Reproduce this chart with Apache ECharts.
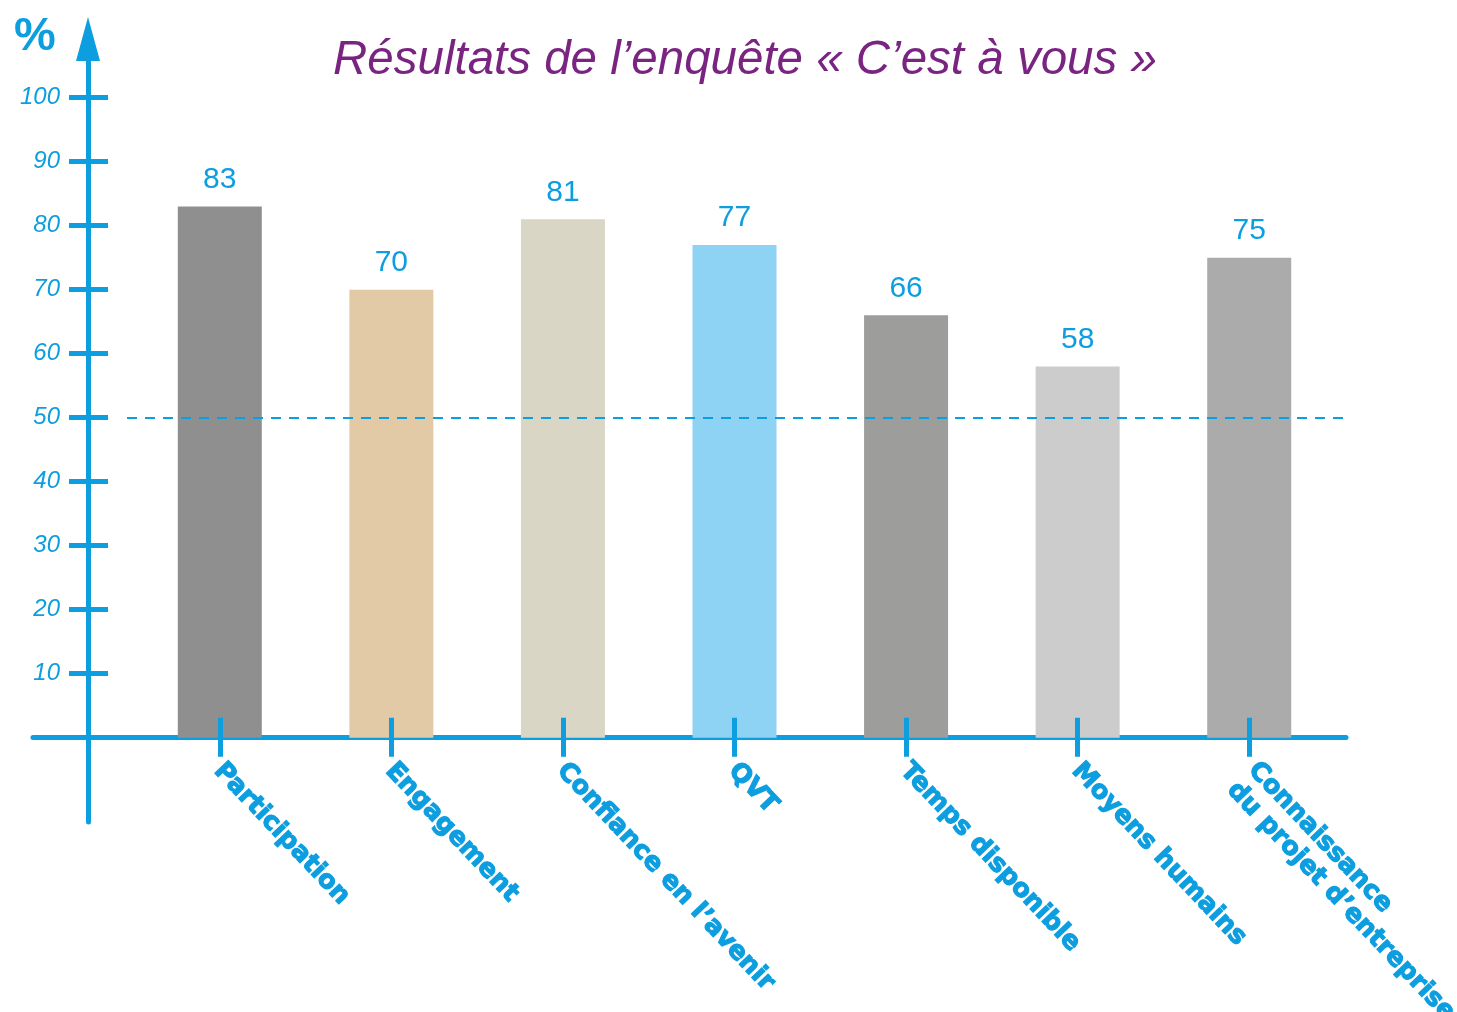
<!DOCTYPE html>
<html><head><meta charset="utf-8">
<script src="https://cdn.jsdelivr.net/npm/echarts@6/dist/echarts.min.js"></script>
<style>html,body{margin:0;padding:0;background:#fff}#c{width:1457px;height:1012px}</style>
</head><body><div id="c"></div>
<script>
const categories = ['Participation','Engagement','Confiance en l’avenir','QVT','Temps disponible','Moyens humains','Connaissance\ndu projet d’entreprise'];
const values = [83, 70, 81, 77, 66, 58, 75];
const barColors = ['#8f8f8f','#e2caa6','#d9d6c5','#8ed2f4','#9d9d9c','#cccccc','#ababab'];
const yMin = 0, yMax = 100, yStep = 10;
const refLine = 50;
const titleText = 'Résultats de l’enquête « C’est à vous »';
const unitText = '%';

const BLUE = '#0d9ee0';
const LH = 29;
const chart = echarts.init(document.getElementById('c'), null, {renderer:'canvas'});
const xData = categories.map(c => {
  const lines = c.split('\n').length;
  return {value: c, textStyle: {verticalAlign: 'top', padding: lines > 1 ? [-15, 0, 0, 4] : [-11, 0, 0, 1]}};
});

chart.setOption({
  animation: false,
  title: [
    {text: titleText, left: 328, top: 32, textStyle: {fontFamily: 'Liberation Sans', fontStyle: 'italic', fontWeight: 'normal', fontSize: 47.5, color: '#7a2482'}},
    {text: unitText, left: 9, top: 9, textStyle: {fontFamily: 'Liberation Sans', fontWeight: 'bold', fontSize: 47, color: BLUE}}
  ],
  grid: [
    {left: 134, right: 122, top: 97.7, bottom: 274.3, outerBoundsMode: 'none', containLabel: false},
    {left: 33, right: 111, top: 39, bottom: 190, outerBoundsMode: 'none', containLabel: false}
  ],
  xAxis: [
    {gridIndex: 0, type: 'category', data: xData, z: 10,
      axisLine: {show: false},
      axisTick: {show: true, alignWithLabel: true, length: 19, lineStyle: {color: BLUE, width: 5}},
      axisLabel: {rotate: -46.5, margin: 26, interval: 0, color: BLUE, fontFamily: 'DejaVu Sans', fontWeight: 'bold', fontSize: 25.5, lineHeight: LH, align: 'left', verticalAlign: 'top',
        textBorderColor: BLUE, textBorderWidth: 1.2}
    },
    {gridIndex: 0, type: 'category', data: categories, position: 'bottom', z: 10,
      axisLine: {show: false},
      axisTick: {show: true, inside: true, alignWithLabel: true, length: 20, lineStyle: {color: BLUE, width: 5}},
      axisLabel: {show: false}
    },
    {gridIndex: 1, type: 'value', min: -55, max: 1258,
      axisLine: {show: true, onZero: true, lineStyle: {color: BLUE, width: 5}},
      axisTick: {show: false}, axisLabel: {show: false}, splitLine: {show: false}
    }
  ],
  yAxis: [
    {gridIndex: 0, type: 'value', min: yMin, max: yMax, interval: yStep, offset: 46,
      axisLine: {show: false},
      axisTick: {show: true, length: 19, lineStyle: {color: BLUE, width: 5}},
      axisLabel: {margin: 28, color: BLUE, fontFamily: 'Liberation Sans', fontStyle: 'italic', fontSize: 24,
        formatter: v => v === 0 ? '' : String(v)},
      splitLine: {show: false}
    },
    {gridIndex: 0, type: 'value', min: yMin, max: yMax, interval: yStep, offset: 46, position: 'left',
      axisLine: {show: false},
      axisTick: {show: true, inside: true, length: 20, lineStyle: {color: BLUE, width: 5}},
      axisLabel: {show: false}, splitLine: {show: false}
    },
    {gridIndex: 1, type: 'value', min: -13.2, max: 109.2,
      axisLine: {show: true, onZero: true, symbol: ['none', 'triangle'], symbolSize: [24, 44], lineStyle: {color: BLUE, width: 5}},
      axisTick: {show: false}, axisLabel: {show: false}, splitLine: {show: false}
    }
  ],
  series: [
    {type: 'bar', xAxisIndex: 0, yAxisIndex: 0, barWidth: 84,
      data: values.map((v, i) => ({value: v, itemStyle: {color: barColors[i]}})),
      label: {show: true, position: 'top', distance: 12, color: BLUE, fontFamily: 'Liberation Sans', fontSize: 30}
    },
    {type: 'scatter', xAxisIndex: 2, yAxisIndex: 2, data: [], z: 3,
      markLine: {silent: true, symbol: 'none', label: {show: false},
        lineStyle: {color: BLUE, width: 2, type: [10, 8]},
        data: [[{coord: [39, refLine]}, {coord: [1258, refLine]}]]}
    }
  ]
});
</script></body></html>
